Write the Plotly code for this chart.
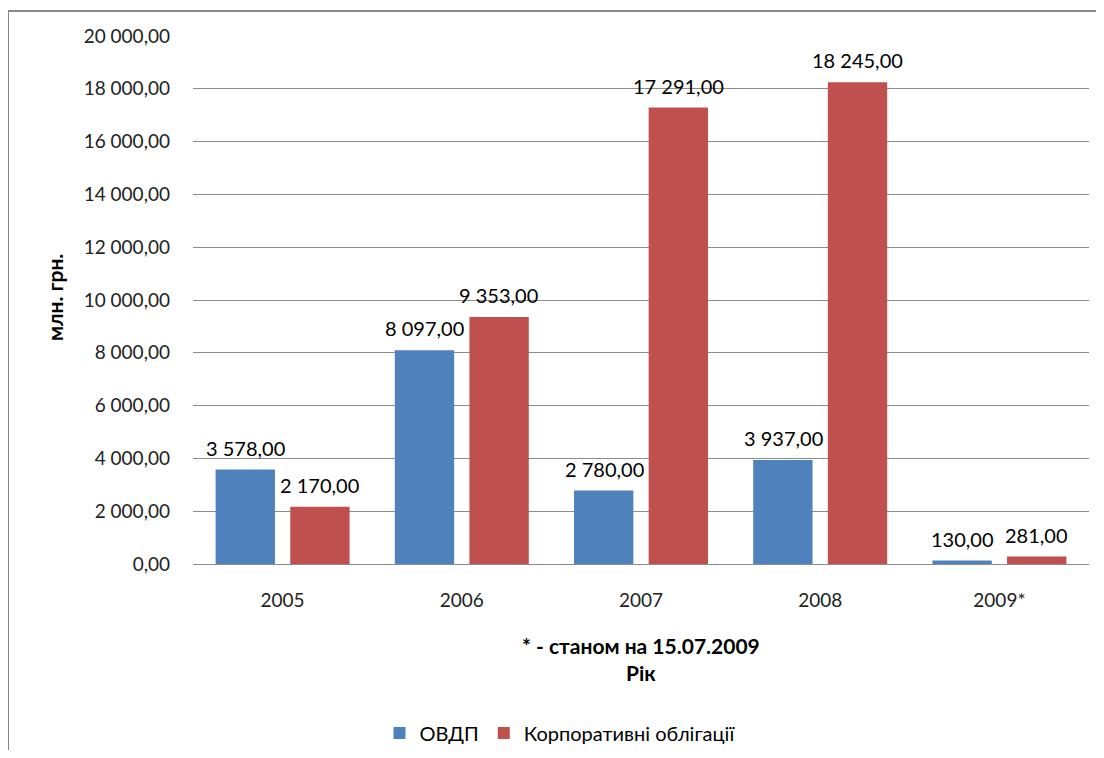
import plotly.graph_objects as go

years = ["2005", "2006", "2007", "2008", "2009*"]
ovdp = [3578, 8097, 2780, 3937, 130]
corp = [2170, 9353, 17291, 18245, 281]
series_names = ["ОВДП", "Корпоративні облігації"]
colors = ["#4F81BD", "#C0504D"]
tick_vals = [0, 2000, 4000, 6000, 8000, 10000, 12000, 14000, 16000, 18000, 20000]


def fmt(v):
    return f"{v:,.2f}".replace(",", " ").replace(".", ",")


FONT = "Lato, Open Sans, sans-serif"

fig = go.Figure()
for name, vals, col in zip(series_names, [ovdp, corp], colors):
    fig.add_trace(go.Bar(
        x=years, y=vals, name=name, marker_color=col,
        marker_line_width=0,
    ))

# page body has an 8px margin, so figure pixel = screen pixel - 8
OFF = 8
W, H = 1088, 742
L, T = 193 - OFF, 36 - OFF
RIGHT, ZERO = 1089 - OFF, 564 - OFF
R, B = W - RIGHT, H - ZERO
pw, ph = RIGHT - L, ZERO - T


def px_x(p):
    return (p - OFF - L) / pw


def px_y(p):
    return (ZERO - (p - OFF)) / ph


# data labels above each bar (bar centres are +-37 px from category centre);
# x given as the category's serial index on the category axis
annotations = []
for vals, dx in zip([ovdp, corp], [-37, 37]):
    for i, v in enumerate(vals):
        annotations.append(dict(
            x=i, y=v, xref="x", yref="y", text=fmt(v), showarrow=False,
            xshift=dx, yshift=22, xanchor="center", yanchor="middle",
            font=dict(size=20, family=FONT, color="#000000")))

annotations += [
    dict(text="<b>* - станом на 15.07.2009</b>", xref="paper", yref="paper",
         x=0.5, y=px_y(645), xanchor="center", yanchor="middle",
         showarrow=False, font=dict(size=21, family=FONT)),
    dict(text="<b>Рік</b>", xref="paper", yref="paper",
         x=0.5, y=px_y(672), xanchor="center", yanchor="middle",
         showarrow=False, font=dict(size=21, family=FONT)),
    dict(text="<b>млн. грн.</b>", xref="paper", yref="paper",
         x=px_x(54), y=px_y(298), xanchor="center", yanchor="middle",
         textangle=-90, showarrow=False, font=dict(size=21, family=FONT)),
]

fig.update_layout(
    width=W, height=H,
    margin=dict(l=L, r=R, t=T, b=B, autoexpand=False),
    paper_bgcolor="white", plot_bgcolor="white",
    barmode="group", bargap=0.167, bargroupgap=0.205,
    font=dict(family=FONT, color="#000000"),
    showlegend=True,
    legend=dict(orientation="h", x=px_x(560), xanchor="center",
                y=px_y(733), yanchor="middle",
                font=dict(size=20, family=FONT), itemwidth=30,
                traceorder="normal"),
    xaxis=dict(type="category", categoryorder="array", categoryarray=years,
               range=[-0.5, len(years) - 0.5],
               showgrid=False, showline=False, ticks="", automargin=False,
               ticklabelstandoff=23,
               tickfont=dict(size=19, family=FONT, color="#222222")),
    yaxis=dict(range=[0, 20000], tickvals=tick_vals, automargin=False,
               ticktext=[fmt(v) for v in tick_vals],
               showgrid=True, gridcolor="#8C8C8C", gridwidth=1,
               zeroline=True, zerolinecolor="#8C8C8C", zerolinewidth=1,
               showline=False, ticks="", ticklabelstandoff=22,
               tickfont=dict(size=19, family=FONT, color="#222222")),
    annotations=annotations,
    shapes=[
        dict(type="line", xref="paper", yref="paper",
             x0=px_x(8), x1=px_x(1110), y0=px_y(11), y1=px_y(11),
             line=dict(color="#868686", width=2)),
        dict(type="line", xref="paper", yref="paper",
             x0=px_x(8), x1=px_x(8), y0=px_y(11), y1=px_y(770),
             line=dict(color="#868686", width=2)),
    ],
)

fig.write_html("out.html")
